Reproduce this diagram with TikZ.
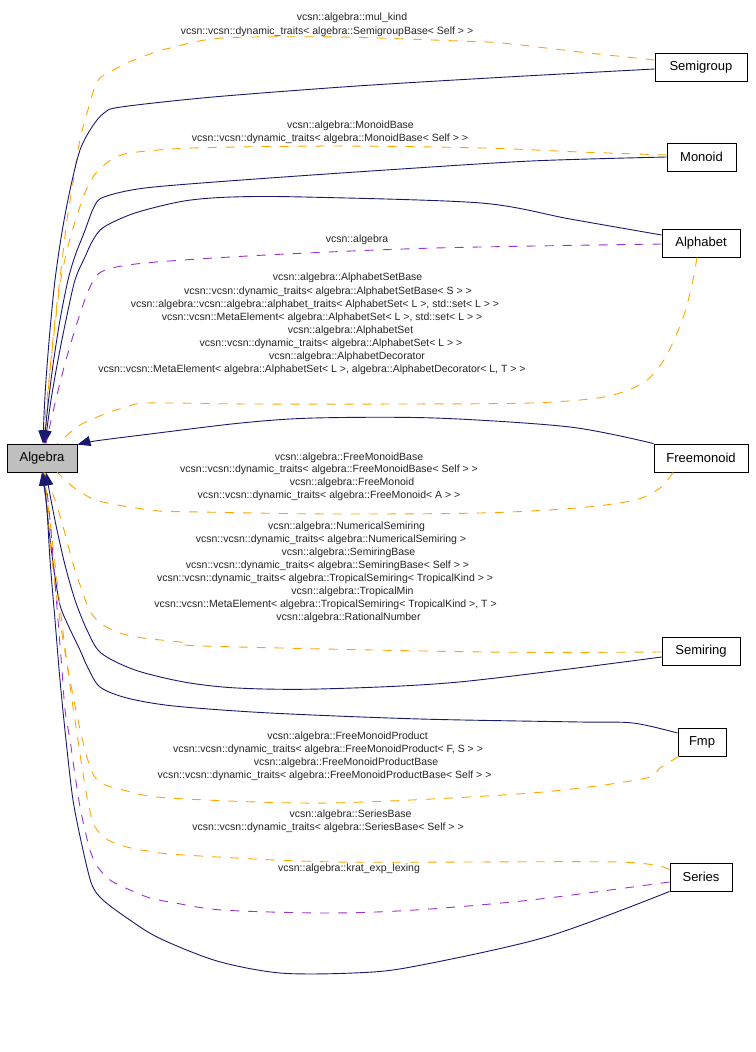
\documentclass[tikz,border=0pt]{standalone}
\usepackage{fontspec}
\setmainfont{Liberation Sans}
\usetikzlibrary{arrows.meta}
\definecolor{edgeblue}{HTML}{191970}
\definecolor{edgeorange}{HTML}{FFA500}
\definecolor{edgepurple}{HTML}{9A32CD}
\definecolor{clsgray}{HTML}{BFBFBF}
\newcommand{\nodefnt}{\fontsize{13}{15}\selectfont}
\newcommand{\lblfnt}{\fontsize{10.5}{12.8}\selectfont}
\tikzset{
  inh/.style={draw=edgeblue, line width=0.9pt, -{Triangle[length=13pt,width=10pt]}},
  tmpl/.style={draw=edgeorange, line width=0.9pt, dash pattern=on 9pt off 9pt},
  usage/.style={draw=edgepurple, line width=0.9pt, dash pattern=on 9pt off 9pt},
  cls/.style={draw=black, line width=0.9pt, minimum height=28pt, inner sep=0pt, font=\nodefnt, fill=white},
  lbl/.style={font=\lblfnt, inner sep=0pt, text height=8pt, text depth=2pt, text=black!85},
  sm/.style={smooth, tension=0.5},
}
\begin{document}
\begin{tikzpicture}[x=1pt, y=-1pt]
\path[use as bounding box, fill=white] (0,0) rectangle (755,1052);

% class nodes
\node[cls, fill=clsgray, minimum width=70pt] (algebra) at (42,458) {Algebra};
\node[cls, minimum width=92pt] (semigroup) at (701,67) {Semigroup};
\node[cls, minimum width=69pt] (monoid) at (701.5,157) {Monoid};
\node[cls, minimum width=78pt] (alphabet) at (701,243) {Alphabet};
\node[cls, minimum width=94pt] (freemonoid) at (701,458) {Freemonoid};
\node[cls, minimum width=78pt] (semiring) at (701,651) {Semiring};
\node[cls, minimum width=48pt] (fmp) at (702,742) {Fmp};
\node[cls, minimum width=62pt] (series) at (701,877) {Series};

% ---------- edges into the top of Algebra ----------
% Semigroup
\draw[tmpl] plot[sm] coordinates {([yshift=7pt]semigroup.west) (580,52) (502,43) (459,41) (338,37) (222,38) (170,48) (147,55) (127,63) (110,72) (100,78) (95,86) (90,103) (83,127) (78,150) (73,183) (67,220) (61,270) (55,320) (50,370) (46,410) ([xshift=2pt]algebra.north)};
\draw[inh] plot[sm] coordinates {([yshift=-2pt]semigroup.west) (507,77) (357,86) (213,97) (121,107) (104,113) (92,127) (80,150) (70,190) (62,232) (55,280) (50,330) (46,380) (44,415) ([xshift=1pt]algebra.north)};
% Monoid
\draw[tmpl] plot[sm] coordinates {([yshift=2pt]monoid.west) (580,152) (483,148) (338,146) (193,148) (130,153) (111,160) (100,169) (93,177) (84,195) (75,222) (67,250) (60,285) (55,325) (50,370) (47,410) ([xshift=3pt]algebra.north)};
\draw[inh] plot[sm] coordinates {(monoid.west) (531,161) (386,170) (242,180) (145,188) (104,197) (94,207) (84,233) (75,256) (68,280) (60,320) (53,365) (48,405) ([xshift=2pt]algebra.north)};
% Alphabet
\draw[inh] plot[sm] coordinates {([yshift=8pt]alphabet.west) (570,219) (481,203) (304,197) (232,197) (184,201) (135,213) (104,227) (93,240) (85,257) (75,280) (66,320) (58,360) (51,400) ([xshift=3pt]algebra.north)};
\draw[usage] plot[sm] coordinates {([yshift=-1pt]alphabet.west) (435,248) (266,255) (145,263) (103,271) (90,287) (78,320) (66,360) (57,395) (50,425) ([xshift=4pt]algebra.north)};
\draw[tmpl] plot[sm] coordinates {([xshift=-4pt]alphabet.south) (692,285) (684,315) (674,340) (662,363) (643,383) (604,397) (531,403) (400,404) (250,404) (147,403) (127,407) (107,413) (80,425) (65,437) ([xshift=-20pt]algebra.north east)};
% Freemonoid
\draw[inh] plot[sm] coordinates {(freemonoid.north west) (570,427) (435,418) (314,418) (241,423) (150,434) (95,441) ([yshift=-1pt]algebra.north east)};
\draw[tmpl] plot[sm] coordinates {([xshift=-28pt]freemonoid.south) (660,488) (635,500) (577,508) (480,513) (330,514) (200,512) (159,511) (130,507) (112,504) (93,499) (73,487) ([xshift=-20pt]algebra.south east)};

% ---------- edges into the bottom of Algebra ----------
% Semiring
\draw[tmpl] plot[sm] coordinates {([yshift=-1pt]semiring.west) (483,652) (203,646) (180,642) (143,638) (120,633) (100,623) (89,609) (80,585) (72,560) (64,530) (55,500) ([xshift=3pt]algebra.south)};
\draw[inh] plot[sm] coordinates {([yshift=-6pt]semiring.west) (459,682) (319,689) (237,688) (184,682) (135,670) (101,653) (87,630) (75,600) (65,565) (57,530) (51,500) ([xshift=4pt]algebra.south)};
% Fmp
\draw[inh] plot[sm] coordinates {([yshift=9pt]fmp.west) (633,723) (580,722) (420,719) (270,713) (174,706) (127,698) (100,687) (88,668) (80,650) (68,625) (60,605) (54,570) (49,530) (46,500) (algebra.south)};
\draw[tmpl] plot[sm] coordinates {([xshift=1pt]fmp.south west) (660,768) (642,779) (531,793) (328,803) (169,798) (123,790) (101,783) (92,772) (85,750) (78,720) (70,680) (63,640) (57,600) (52,560) (48,520) ([xshift=2pt]algebra.south)};
% Series
\draw[tmpl] plot[sm] coordinates {([yshift=7pt]series.west) (618,862) (338,862) (184,855) (148,851) (127,847) (108,840) (95,827) (89,807) (84,780) (78,740) (72,700) (64,640) (57,580) (51,530) ([xshift=2pt]algebra.south)};
\draw[usage] plot[sm] coordinates {([yshift=-5pt]series.west) (531,900) (415,910) (328,913) (222,910) (170,902) (150,898) (130,890) (110,880) (97,866) (90,850) (85,830) (80,807) (75,775) (70,740) (65,710) (62,670) (58,620) (54,570) (50,520) ([xshift=3pt]algebra.south)};
\draw[inh] plot[sm] coordinates {(series.south west) (546,937) (411,967) (353,973) (280,973) (217,961) (159,938) (127,918) (103,900) (92,885) (83,850) (73,800) (66,740) (60,680) (55,620) (50,560) (47,510) ([xshift=1pt]algebra.south)};

% ---------- labels ----------
\node[lbl] (l1) at (352,17) {vcsn::algebra::mul\_kind};
\node[lbl] (l2) at (327,31) {vcsn::vcsn::dynamic\_traits< algebra::SemigroupBase< Self > >};
\node[lbl] (l3) at (350.5,125) {vcsn::algebra::MonoidBase};
\node[lbl] (l4) at (330,138) {vcsn::vcsn::dynamic\_traits< algebra::MonoidBase< Self > >};
\node[lbl] (l5) at (357,239) {vcsn::algebra};
\node[lbl] (l6) at (347.5,277) {vcsn::algebra::AlphabetSetBase};
\node[lbl] (l7) at (328,291) {vcsn::vcsn::dynamic\_traits< algebra::AlphabetSetBase< S > >};
\node[lbl] (l8) at (315,304) {vcsn::algebra::vcsn::algebra::alphabet\_traits< AlphabetSet< L >, std::set< L > >};
\node[lbl] (l9) at (322,317) {vcsn::vcsn::MetaElement< algebra::AlphabetSet< L >, std::set< L > >};
\node[lbl] (l10) at (350.5,330) {vcsn::algebra::AlphabetSet};
\node[lbl] (l11) at (331,343) {vcsn::vcsn::dynamic\_traits< algebra::AlphabetSet< L > >};
\node[lbl] (l12) at (347,356) {vcsn::algebra::AlphabetDecorator};
\node[lbl] (l13) at (312,369) {vcsn::vcsn::MetaElement< algebra::AlphabetSet< L >, algebra::AlphabetDecorator< L, T > >};
\node[lbl] (l14) at (349,457) {vcsn::algebra::FreeMonoidBase};
\node[lbl] (l15) at (329,469) {vcsn::vcsn::dynamic\_traits< algebra::FreeMonoidBase< Self > >};
\node[lbl] (l16) at (352,482) {vcsn::algebra::FreeMonoid};
\node[lbl] (l17) at (329,495) {vcsn::vcsn::dynamic\_traits< algebra::FreeMonoid< A > >};
\node[lbl] (l18) at (346.5,526) {vcsn::algebra::NumericalSemiring};
\node[lbl] (l19) at (331,539) {vcsn::vcsn::dynamic\_traits< algebra::NumericalSemiring >};
\node[lbl] (l20) at (348.5,552) {vcsn::algebra::SemiringBase};
\node[lbl] (l21) at (327.5,565) {vcsn::vcsn::dynamic\_traits< algebra::SemiringBase< Self > >};
\node[lbl] (l22) at (325,578) {vcsn::vcsn::dynamic\_traits< algebra::TropicalSemiring< TropicalKind > >};
\node[lbl] (l23) at (352.5,591) {vcsn::algebra::TropicalMin};
\node[lbl] (l24) at (325.5,604) {vcsn::vcsn::MetaElement< algebra::TropicalSemiring< TropicalKind >, T >};
\node[lbl] (l25) at (348.5,617) {vcsn::algebra::RationalNumber};
\node[lbl] (l26) at (347.5,736) {vcsn::algebra::FreeMonoidProduct};
\node[lbl] (l27) at (328,749) {vcsn::vcsn::dynamic\_traits< algebra::FreeMonoidProduct< F, S > >};
\node[lbl] (l28) at (346,762) {vcsn::algebra::FreeMonoidProductBase};
\node[lbl] (l29) at (324.5,775) {vcsn::vcsn::dynamic\_traits< algebra::FreeMonoidProductBase< Self > >};
\node[lbl] (l30) at (350.5,814) {vcsn::algebra::SeriesBase};
\node[lbl] (l31) at (328,827) {vcsn::vcsn::dynamic\_traits< algebra::SeriesBase< Self > >};
\node[lbl] (l32) at (349,868) {vcsn::algebra::krat\_exp\_lexing};
\end{tikzpicture}
\end{document}
